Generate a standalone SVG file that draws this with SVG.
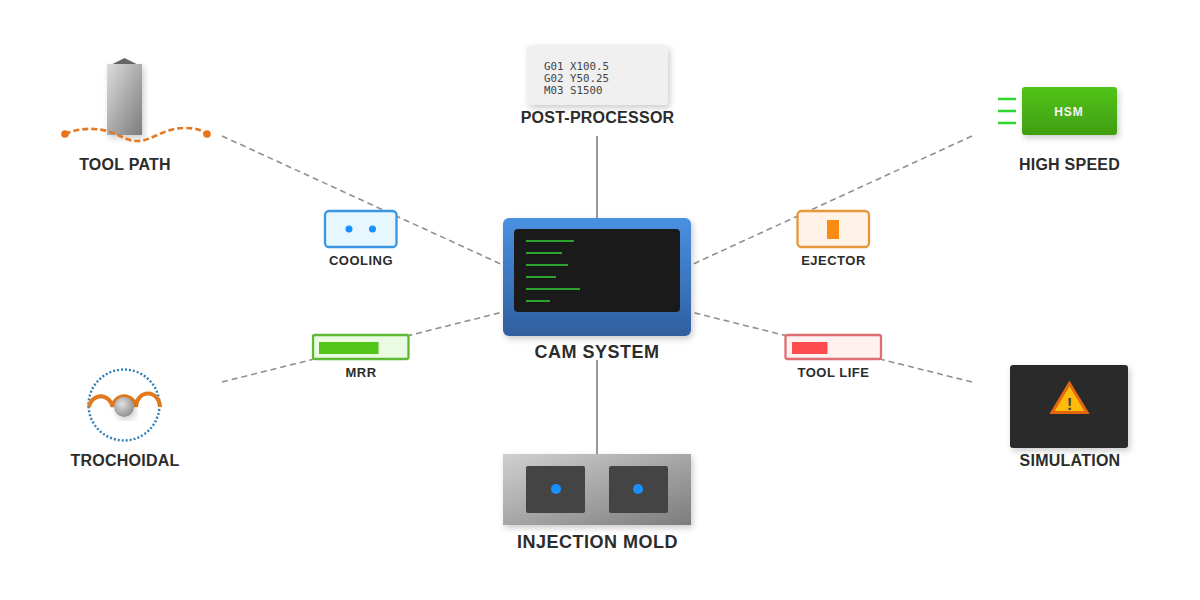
<svg xmlns="http://www.w3.org/2000/svg" width="1200" height="600" viewBox="0 0 1200 600">
<defs>
<linearGradient id="gBlue" x1="0" y1="0" x2="0" y2="1"><stop offset="0" stop-color="#4a90e2"/><stop offset="1" stop-color="#2f5f9f"/></linearGradient>
<linearGradient id="gTool" x1="0" y1="0" x2="1" y2="1"><stop offset="0" stop-color="#dcdcdc"/><stop offset="1" stop-color="#7c7c7c"/></linearGradient>
<linearGradient id="gMold" x1="0" y1="0" x2="1" y2="1"><stop offset="0" stop-color="#d0d0d0"/><stop offset="1" stop-color="#7c7c7c"/></linearGradient>
<linearGradient id="gGreen" x1="0" y1="0" x2="0" y2="1"><stop offset="0" stop-color="#52c41a"/><stop offset="1" stop-color="#3f9e10"/></linearGradient>
<radialGradient id="gBall" cx="0.4" cy="0.35" r="0.7"><stop offset="0" stop-color="#e0e0e0"/><stop offset="1" stop-color="#8a8a8a"/></radialGradient>
<filter id="sh" x="-20%" y="-20%" width="140%" height="140%"><feDropShadow dx="2" dy="3" stdDeviation="3" flood-color="#000" flood-opacity="0.2"/></filter>
</defs>
<style>
text{font-family:"Liberation Sans",Arial,sans-serif;font-weight:700;fill:#2c2c2c;text-anchor:middle}
.t16{font-size:16px;letter-spacing:0.25px}.t18{font-size:18px;letter-spacing:0.5px}.t13{font-size:13px;letter-spacing:0.5px}
.dash{stroke:#909090;stroke-width:1.6;stroke-dasharray:6 4;fill:none}
.solid{stroke:#999;stroke-width:2;fill:none}
.code{font-family:"DejaVu Sans Mono",monospace;font-size:10.8px;font-weight:400;fill:#444;text-anchor:start}
.scr{stroke:#35d035;stroke-width:1.6;fill:none}
.lines{stroke:#2fd62f;stroke-width:2.5}
.cav{fill:#444}.dot{fill:#1890ff}
</style>
<rect width="1200" height="600" fill="#fff"/>
<g id="connectors">
<line class="solid" x1="597" y1="136" x2="597" y2="218"/>
<line class="solid" x1="597" y1="360" x2="597" y2="454"/>
<line class="dash" x1="222" y1="136" x2="503" y2="265"/>
<line class="dash" x1="972" y1="136" x2="691" y2="265"/>
<line class="dash" x1="222" y1="382" x2="503" y2="312"/>
<line class="dash" x1="972" y1="382" x2="691" y2="312"/>
</g>
<g id="cam-system">
<rect x="503" y="218" width="188" height="118" rx="6" fill="url(#gBlue)" filter="url(#sh)"/>
<rect x="514" y="229" width="166" height="83" rx="4" fill="#1a1a1a"/>
<path class="scr" d="M526 241h48M526 253h36M526 265h42M526 277h30M526 289h54M526 301h24"/>
<text class="t18" x="597" y="358">CAM SYSTEM</text>
</g>
<g id="tool-path">
<path d="M124.500 58l-12 6h24z" fill="#666"/>
<rect x="107" y="64" width="35" height="71" fill="url(#gTool)" filter="url(#sh)"/>
<path d="M65 134C76 129 92 127 107 131S125 141 138 141S165 128 183 128S200 131 207 134" fill="none" stroke="#e2791f" stroke-width="2.600" stroke-dasharray="6 3"/>
<circle cx="65" cy="134" r="3.800" fill="#e8711a"/><circle cx="207" cy="134" r="3.800" fill="#e8711a"/>
<text class="t16" x="125" y="169.500">TOOL PATH</text>
</g>
<g id="post-processor">
<rect x="527" y="45" width="141" height="60" rx="4" fill="#f0f0f0" filter="url(#sh)"/>
<text class="code" x="544" y="70">G01 X100.5</text>
<text class="code" x="544" y="82">G02 Y50.25</text>
<text class="code" x="544" y="94">M03 S1500</text>
<text class="t16" x="597.500" y="122.500" letter-spacing="0.350">POST-PROCESSOR</text>
</g>
<g id="high-speed">
<path class="lines" d="M998 99h18M998 111h18M998 123h18"/>
<rect x="1022" y="87" width="95" height="48" rx="3" fill="url(#gGreen)" filter="url(#sh)"/>
<text x="1069" y="116" font-size="12" letter-spacing="1" style="fill:#f4f4f4">HSM</text>
<text class="t16" x="1069.500" y="169.500">HIGH SPEED</text>
</g>
<g id="trochoidal">
<circle cx="124" cy="405" r="35.500" fill="none" stroke="#2f7fb8" stroke-width="2.400" stroke-dasharray="2 2"/>
<path d="M89 407a12 13.500 0 0 1 23.500 0a12 13.500 0 0 1 23.500 0a12 13.500 0 0 1 24 0" fill="none" stroke="#e2791f" stroke-width="4"/>
<circle cx="124" cy="407" r="10" fill="url(#gBall)" filter="url(#sh)"/>
<text class="t16" x="125" y="465.500">TROCHOIDAL</text>
</g>
<g id="simulation">
<rect x="1010" y="365" width="118" height="83" rx="3" fill="#2a2a2a" filter="url(#sh)"/>
<path d="M1069.500 383.500L1087 412.500H1052Z" fill="#ffbb0a" stroke="#e2670f" stroke-width="3" stroke-linejoin="miter"/>
<text x="1069.500" y="410" font-size="17" style="fill:#444">!</text>
<text class="t16" x="1070" y="465.500">SIMULATION</text>
</g>
<g id="injection-mold">
<rect x="503" y="454" width="188" height="71" fill="url(#gMold)" filter="url(#sh)"/>
<rect class="cav" x="526" y="466" width="59" height="47" rx="2"/>
<rect class="cav" x="609" y="466" width="59" height="47" rx="2"/>
<circle class="dot" cx="556" cy="489" r="5"/><circle class="dot" cx="638" cy="489" r="5"/>
<text class="t18" x="597.500" y="547.500">INJECTION MOLD</text>
</g>
<g id="cooling">
<rect x="325" y="211" width="71.500" height="36" rx="4" fill="#e6f7ff" stroke="#3a96e0" stroke-width="2.300"/>
<circle class="dot" cx="349" cy="229" r="3.500"/><circle class="dot" cx="372.500" cy="229" r="3.500"/>
<text class="t13" x="361" y="264.500" letter-spacing="0.700">COOLING</text>
</g>
<g id="mrr">
<rect x="313" y="335" width="95.500" height="24" rx="2" fill="#e9fbe0" stroke="#5cba34" stroke-width="2.300"/>
<rect x="319" y="342" width="59.500" height="12" fill="#52c41a"/>
<text class="t13" x="361" y="376.500">MRR</text>
</g>
<g id="ejector">
<rect x="797.500" y="211" width="71.500" height="36" rx="4" fill="#fff2e6" stroke="#e5973a" stroke-width="2.300"/>
<rect x="827" y="220" width="12" height="19" fill="#fa8c16"/>
<text class="t13" x="833.500" y="264.500">EJECTOR</text>
</g>
<g id="tool-life">
<rect x="785.500" y="335" width="95.500" height="24" rx="2" fill="#fff1f0" stroke="#de6e72" stroke-width="2.300"/>
<rect x="792" y="342" width="35.500" height="12" fill="#ff4d4f"/>
<text class="t13" x="833.500" y="376.500">TOOL LIFE</text>
</g>
</svg>
